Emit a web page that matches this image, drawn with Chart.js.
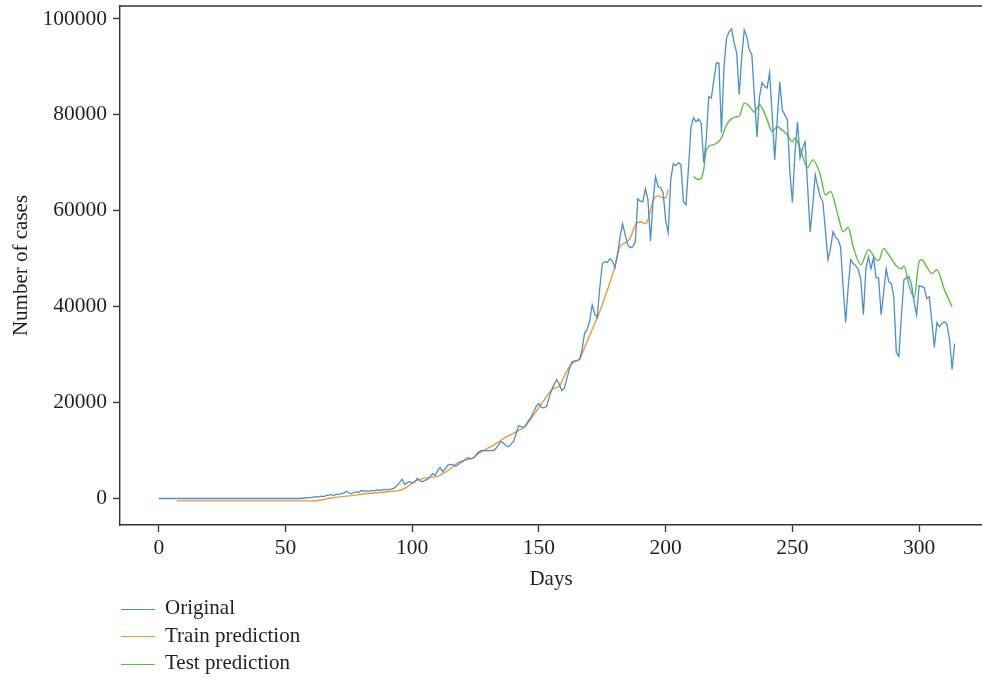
<!DOCTYPE html>
<html>
<head>
<meta charset="utf-8">
<script src="https://cdn.jsdelivr.net/npm/chart.js@4/dist/chart.umd.min.js"></script>
<style>
  body { margin: 0; background: #fff; }
  #wrap { position: relative; width: 982px; height: 678px; }
  #legend { position: absolute; left: 121px; top: 594px; font-family: "Liberation Serif", serif; font-size: 21px; color: #231f20; }
  #legend div { height: 27.5px; line-height: 27.5px; white-space: nowrap; }
  #legend span.ln { display: inline-block; width: 34px; height: 0; border-top: 1.3px solid; vertical-align: middle; margin-right: 10px; }
</style>
</head>
<body>
<div id="wrap">
  <canvas id="chart" width="982" height="600"></canvas>
  <div id="legend"></div>
</div>
<script>
// daily reported cases, day 0 .. 314
const originalCases = [
  0, 0, 0, 0, 0, 0, 0, 0, 0, 0,
  0, 0, 0, 0, 0, 0, 0, 0, 0, 0,
  0, 0, 0, 0, 0, 0, 0, 0, 0, 0,
  0, 0, 0, 0, 0, 0, 0, 0, 0, 0,
  0, 0, 0, 0, 0, 0, 0, 0, 0, 0,
  0, 0, 0, 0, 0, 0, 0, 100, 100, 200,
  200, 300, 400, 300, 500, 400, 600, 700, 800, 600,
  900, 800, 1000, 1100, 1500, 1200, 1000, 1300, 1400, 1300,
  1700, 1500, 1600, 1500, 1700, 1600, 1800, 1700, 1800, 1900,
  1800, 1900, 2000, 2200, 2700, 3300, 4000, 2900, 3300, 3500,
  3200, 3400, 4200, 3700, 3500, 3800, 4000, 4500, 5200, 4800,
  5800, 6500, 5600, 6200, 6900, 7100, 7000, 6700, 7000, 7500,
  7700, 8200, 8500, 8300, 8400, 9000, 9600, 10000, 10000, 10000,
  10000, 10000, 10000, 10400, 11200, 11900, 11500, 11000, 10800, 11400,
  11900, 13500, 15200, 15000, 14800, 15500, 16300, 17100, 18200, 19300,
  19800, 19000, 18900, 19200, 21000, 22700, 23800, 24800, 23800, 22500,
  23000, 25000, 27000, 28500, 28700, 28800, 29000, 31000, 34500, 35200,
  37000, 40400, 38500, 37700, 44000, 49000, 49400, 49200, 50000, 49500,
  48100, 51000, 54500, 57300, 55000, 52900, 52300, 52500, 53500, 62500,
  62000, 61900, 64600, 62300, 53700, 62000, 67100, 65000, 64800, 63700,
  58000, 55400, 66500, 69800, 69400, 70000, 69600, 61900, 61250, 69000,
  77500, 79400, 78500, 79100, 78300, 70000, 74800, 83750, 83500, 87300,
  90800, 90800, 76250, 90000, 96000, 97300, 97900, 95000, 92900, 84200,
  92000, 97700, 96250, 93500, 92500, 84000, 75400, 83750, 86700, 86000,
  85600, 88750, 80000, 70600, 79000, 86900, 81000, 80000, 79000, 68000,
  61700, 72000, 78500, 71000, 73000, 74400, 65000, 55600, 61000, 67500,
  65000, 62900, 61900, 56000, 49800, 52000, 55600, 54500, 54000, 52500,
  44000, 36700, 44000, 49800, 49000, 48500, 47700, 45600, 38300, 48000,
  50400, 47900, 50200, 46000, 46000, 38300, 43000, 47900, 45200, 44800,
  42100, 30400, 29600, 38000, 45600, 46000, 46250, 44600, 41000, 38300,
  44400, 44200, 44000, 41700, 42100, 37000, 31500, 36700, 35800, 36500,
  36900, 36250, 33100, 26900, 32300
];

const trainDays = [7, 20, 40, 60, 64, 68, 72, 76, 80, 84, 88, 92, 95, 97, 99, 101, 103, 107, 110, 112,
  115, 118, 121, 124, 126, 128, 131, 134, 137, 140, 142, 144, 146, 148, 150, 152, 154, 156, 158, 160,
  162, 164, 166, 168, 170, 172, 174, 176, 178, 180, 182, 184, 186, 188, 190, 192, 193, 195, 197, 199, 200, 201];
const trainCases = [-500, -500, -500, -500, -300, 100, 400, 600, 900, 1100, 1300, 1500, 1700, 2100, 2800, 3600, 4000, 4400, 4600, 5200,
  6200, 7500, 8000, 8400, 9300, 10000, 10800, 11800, 12800, 13600, 14200, 14800, 16000, 17500, 19000, 20500, 22000, 23000, 23400, 25500,
  27500, 28500, 29000, 31500, 34000, 36500, 39000, 42000, 45000, 48500, 52500, 53300, 54300, 57000, 57700, 57300, 58100, 62000, 63100, 62700, 62700, 64400];

const testDays = [211, 213, 214, 215, 216, 219, 221, 222, 224, 226, 228, 229, 231, 233, 235, 237, 240, 242, 244, 246,
  248, 250, 251, 253, 256, 258, 261, 263, 265, 268, 270, 272, 274, 277, 280, 283, 284, 286, 288, 291,
  293, 294, 296, 298, 300, 301, 303, 305, 307, 310, 313];
const testCases = [67100, 66500, 66800, 68500, 72700, 73800, 74500, 75200, 77900, 79200, 79600, 79700, 82500, 81800, 80600, 82100, 79000, 76500, 77500, 76800,
  75800, 74400, 75200, 73000, 69000, 70600, 67500, 63300, 64000, 59000, 55600, 56500, 52500, 48750, 51900, 49800, 49600, 52100, 50800, 48500,
  47900, 48500, 44500, 41900, 49400, 49800, 48300, 46900, 47700, 43500, 40000];

const xTicks = [0, 50, 100, 150, 200, 250, 300];
const yTicks = [0, 20000, 40000, 60000, 80000, 100000];

const seriesNames = ['Original', 'Train prediction', 'Test prediction'];
const seriesColors = ['#4a8fd0', '#f7952f', '#5dbf3b'];

const ink = '#231f20';
const font = { family: '"Liberation Serif", serif', size: 21 };
const tickFont = { family: '"Liberation Serif", serif', size: 21.5 };

const topBorder = {
  id: 'topBorder',
  afterDraw(chart) {
    const a = chart.chartArea, c = chart.ctx;
    c.save();
    c.strokeStyle = '#333';
    c.lineWidth = 1.4;
    c.beginPath();
    c.moveTo(a.left, a.top);
    c.lineTo(a.right, a.top);
    c.stroke();
    c.restore();
  }
};

const ctx = document.querySelector('#chart').getContext('2d');
const chart = new Chart(ctx, {
  type: 'line',
  data: {
    datasets: [{
      label: seriesNames[0],
      data: originalCases.map((v, i) => ({ x: i, y: v })),
      borderColor: seriesColors[0],
      borderWidth: 1.3,
      tension: 0
    }, {
      label: seriesNames[1],
      data: trainDays.map((d, i) => ({ x: d, y: trainCases[i] })),
      borderColor: seriesColors[1],
      borderWidth: 1.4,
      cubicInterpolationMode: 'monotone'
    }, {
      label: seriesNames[2],
      data: testDays.map((d, i) => ({ x: d, y: testCases[i] })),
      borderColor: seriesColors[2],
      borderWidth: 1.4,
      cubicInterpolationMode: 'monotone'
    }]
  },
  options: {
    responsive: false,
    animation: false,
    layout: { padding: { top: 6, right: 0, left: 0, bottom: 0 } },
    elements: { point: { radius: 0 } },
    plugins: { legend: { display: false }, tooltip: { enabled: false } },
    scales: {
      x: {
        type: 'linear',
        min: -15.3,
        max: 324.8,
        afterFit: s => { s.height = 75; s.paddingRight = 0; },
        afterBuildTicks: s => { s.ticks = xTicks.map(v => ({ value: v })); },
        grid: { drawOnChartArea: false, tickLength: 7, tickColor: '#333', tickWidth: 1.3 },
        border: { color: '#333', width: 1.4 },
        ticks: { font: tickFont, color: ink, padding: 3, maxRotation: 0 },
        title: { display: true, text: 'Days', font: font, color: ink, padding: { top: 0, bottom: 8 } }
      },
      y: {
        min: -5525,
        max: 102690,
        afterFit: s => { s.width = 120; s.paddingTop = 0; s.paddingBottom = 0; },
        afterBuildTicks: s => { s.ticks = yTicks.map(v => ({ value: v })); },
        grid: { drawOnChartArea: false, tickLength: 7, tickColor: '#333', tickWidth: 1.3 },
        border: { color: '#333', width: 1.4 },
        ticks: { font: tickFont, color: ink, padding: 6, callback: v => String(v) },
        title: { display: true, text: 'Number of cases', font: font, color: ink, padding: { top: 9, bottom: 0 } }
      }
    }
  },
  plugins: [topBorder]
});

document.querySelector('#legend').innerHTML = chart.data.datasets.map(d =>
  '<div><span class="ln" style="border-color:' + d.borderColor + '"></span>' + d.label + '</div>'
).join('');
</script>
</body>
</html>
